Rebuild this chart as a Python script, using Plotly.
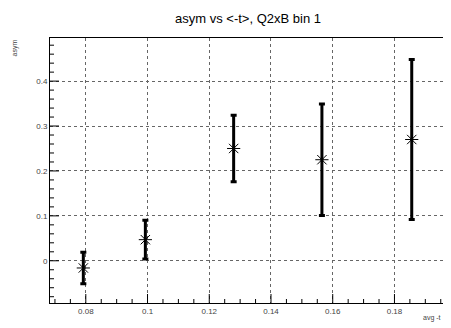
import numpy as np
import plotly.graph_objects as go

avg_t = [0.0792, 0.0993, 0.1279, 0.1565, 0.1856]
asym = [-0.016, 0.047, 0.250, 0.225, 0.270]
asym_err = [0.035, 0.043, 0.074, 0.124, 0.178]

x_major = [0.08, 0.10, 0.12, 0.14, 0.16, 0.18]
y_major = [0.0, 0.1, 0.2, 0.3, 0.4]
x_range = [0.0684, 0.1967]
y_range = [-0.094, 0.496]

title = "asym vs &lt;-t&gt;, Q2xB bin 1"
x_title = "avg -t"
y_title = "asym"

fig = go.Figure()
fig.add_trace(go.Scatter(
    x=avg_t, y=asym, mode="markers",
    marker=dict(symbol="asterisk-open", size=11, color="black",
                line=dict(color="black", width=1)),
    error_y=dict(type="data", array=asym_err, visible=True,
                 color="black", thickness=3, width=3),
    showlegend=False,
))

font = "Liberation Sans, Arial, sans-serif"
W, H = 443, 320
L, R, T, B = 42, 5, 30, 25
pw, ph = W - L - R, H - T - B

# tick marks (ROOT style, inside, on left and bottom only)
x_minor = np.arange(0.07, 0.1966, 0.005)
y_minor = np.arange(-0.08, 0.4961, 0.02)
shapes = []
for xv in x_minor:
    major = any(abs(xv - m) < 1e-9 for m in x_major)
    shapes.append(dict(type="line", xref="x", yref="paper", x0=xv, x1=xv,
                       y0=0, y1=(9 if major else 4) / ph,
                       line=dict(color="black", width=1), layer="above"))
for yv in y_minor:
    major = any(abs(yv - m) < 1e-9 for m in y_major)
    shapes.append(dict(type="line", xref="paper", yref="y", y0=yv, y1=yv,
                       x0=0, x1=(9 if major else 4) / pw,
                       line=dict(color="black", width=1), layer="above"))

fig.update_layout(
    width=W, height=H,
    margin=dict(l=L, r=R, t=T, b=B),
    paper_bgcolor="white", plot_bgcolor="white",
    title=dict(text=title, x=(248 - 8) / W, xanchor="center",
               y=1 - (18 - 8) / H, yanchor="middle",
               font=dict(family=font, size=13, color="black")),
    font=dict(family=font, size=8, color="#333"),
    xaxis=dict(range=x_range, tickvals=x_major,
               ticktext=[f"{v:g}" for v in x_major], ticks="",
               showline=True, linecolor="black", linewidth=1, mirror=True,
               showgrid=True, gridcolor="#666", griddash="dot", gridwidth=1,
               zeroline=False, tickfont=dict(size=8, color="#444")),
    yaxis=dict(range=y_range, tickvals=y_major,
               ticktext=[f"{v:g}" for v in y_major], ticks="",
               showline=True, linecolor="black", linewidth=1, mirror=True,
               showgrid=True, gridcolor="#666", griddash="dot", gridwidth=1,
               zeroline=False, tickfont=dict(size=8, color="#444")),
    shapes=shapes,
    annotations=[
        dict(text=y_title, xref="paper", yref="paper", x=-(50 - 14) / pw, y=1.0,
             xanchor="center", yanchor="top", textangle=-90, showarrow=False,
             font=dict(family=font, size=7, color="#444")),
        dict(text=x_title, xref="paper", yref="paper", x=(443 - 50) / pw, y=-(318 - 303) / ph,
             xanchor="right", yanchor="middle", showarrow=False,
             font=dict(family=font, size=7, color="#444")),
    ],
)

fig.write_html("out.html")
